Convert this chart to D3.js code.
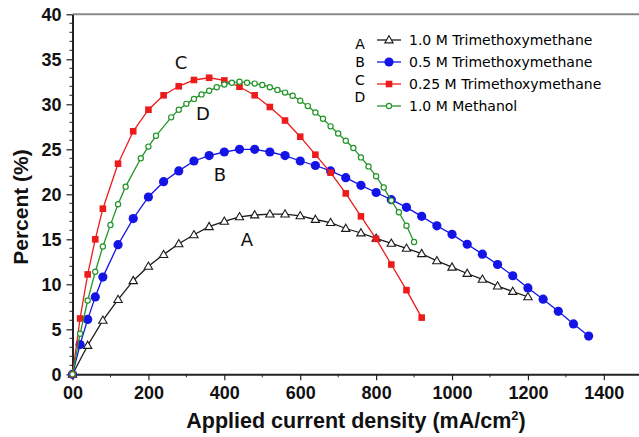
<!DOCTYPE html>
<html>
<head>
<meta charset="utf-8">
<script src="https://cdn.jsdelivr.net/npm/d3@7"></script>
<style>
  html, body { margin: 0; padding: 0; background: #fff; }
  svg { display: block; }
</style>
</head>
<body>
<script>
// Current efficiency vs. applied current density for four fuel solutions.

// A: 1.0 M Trimethoxymethane
const xA = [0,40,80,120,160,200,240,280,320,360,400,440,480,520,560,600,640,680,720,760,800,840,880,920,960,1000,1040,1080,1120,1160,1200];
const yA = [0,3.2,6.0,8.3,10.4,12.0,13.3,14.5,15.5,16.4,17.0,17.5,17.7,17.8,17.8,17.6,17.2,16.85,16.2,15.7,15.1,14.55,14.0,13.4,12.6,11.9,11.2,10.55,9.8,9.2,8.6];

// B: 0.5 M Trimethoxymethane
const xB = [0,20,40,60,80,120,160,200,240,280,320,360,400,440,480,520,560,600,640,680,720,760,800,840,880,920,960,1000,1040,1080,1120,1160,1200,1240,1280,1320,1360];
const yB = [0,3.3,6.1,8.6,10.8,14.4,17.3,19.7,21.4,22.6,23.7,24.3,24.7,25.0,25.0,24.7,24.3,23.7,23.2,22.6,21.85,21.0,20.2,19.4,18.55,17.55,16.5,15.55,14.45,13.35,12.2,10.95,9.6,8.35,7.0,5.6,4.25];

// C: 0.25 M Trimethoxymethane
const xC = [0,20,40,60,80,120,160,200,240,280,320,360,400,440,480,520,560,600,640,680,720,760,800,840,880,920];
const yC = [0,6.2,11.1,15.0,18.4,23.4,27.0,29.4,31.0,32.0,32.7,32.95,32.65,31.95,31.0,29.7,28.2,26.4,24.4,22.4,20.1,17.55,15.05,12.2,9.35,6.3];

// D: 1.0 M Methanol
const xD = [0,20,40,60,80,100,120,140,180,200,220,260,280,300,320,340,360,380,400,420,440,460,480,500,520,540,560,580,600,620,640,660,680,700,720,740,760,780,800,820,840,860,880,900];
const yD = [0,4.5,8.2,11.4,14.2,16.6,18.9,20.85,24.0,25.3,26.5,28.55,29.4,30.05,30.6,31.1,31.5,31.9,32.2,32.4,32.5,32.4,32.3,32.15,31.9,31.6,31.3,30.95,30.4,29.8,29.1,28.4,27.55,26.75,25.95,25.15,24.1,23.1,22.0,20.75,19.3,18.0,16.5,14.7];

const seriesLetters = ["A", "B", "C", "D"];
const seriesNames = ["1.0 M Trimethoxymethane", "0.5 M Trimethoxymethane", "0.25 M Trimethoxymethane", "1.0 M Methanol"];

const xTicks = [0, 200, 400, 600, 800, 1000, 1200, 1400];
const xTickLabels = ["00", "200", "400", "600", "800", "1000", "1200", "1400"];
const yTicks = [0, 5, 10, 15, 20, 25, 30, 35, 40];

const W = 639, H = 437;
const svg = d3.select("body").append("svg").attr("width", W).attr("height", H);

const x = d3.scaleLinear().domain([0, 1500]).range([72.5, 641.8]);
const y = d3.scaleLinear().domain([0, 40]).range([374.3, 14.3]);

const numFont = "'Liberation Sans', Arial, sans-serif";
const handFont = "'DejaVu Sans', sans-serif";

// top frame line
svg.append("line")
  .attr("x1", x(0)).attr("x2", W).attr("y1", y(40)).attr("y2", y(40))
  .attr("stroke", "#8a8a8a").attr("stroke-width", 2);

// minor ticks
const yMinor = d3.range(0, 41, 1).filter(v => v % 5 !== 0);
svg.append("g").selectAll("line").data(yMinor).join("line")
  .attr("x1", x(0) - 3).attr("x2", x(0)).attr("y1", d => y(d)).attr("y2", d => y(d))
  .attr("stroke", "#222").attr("stroke-width", 1);
const xMinor = d3.range(100, 1501, 200);
svg.append("g").selectAll("line").data(xMinor).join("line")
  .attr("x1", d => x(d)).attr("x2", d => x(d)).attr("y1", y(0)).attr("y2", y(0) + 3)
  .attr("stroke", "#222").attr("stroke-width", 1);

// axes
const yAxis = svg.append("g").attr("transform", `translate(${x(0)},0)`)
  .call(d3.axisLeft(y).tickValues(yTicks).tickSize(6).tickSizeOuter(0).tickPadding(5));
const xAxis = svg.append("g").attr("transform", `translate(0,${y(0)})`)
  .call(d3.axisBottom(x).tickValues(xTicks).tickFormat((d, i) => xTickLabels[i]).tickSize(6).tickSizeOuter(0).tickPadding(6));

[yAxis, xAxis].forEach(g => {
  g.select(".domain").attr("stroke", "#222").attr("stroke-width", 2);
  g.selectAll(".tick line").attr("stroke", "#222").attr("stroke-width", 1.2);
  g.selectAll(".tick text").attr("fill", "#111")
    .style("font-family", numFont).style("font-weight", "bold").style("font-size", "18px");
});

// axis titles
svg.append("text")
  .attr("x", 356).attr("y", 428).attr("text-anchor", "middle")
  .style("font-family", numFont).style("font-weight", "bold").style("font-size", "21.5px").attr("fill", "#111")
  .text("Applied current density (mA/cm")
  .append("tspan").attr("dy", -8).style("font-size", "13px").text("2")
  .select(function () { return this.parentNode; })
  .append("tspan").attr("dy", 8).text(")");

svg.append("text")
  .attr("transform", "translate(28,207) rotate(-90)").attr("text-anchor", "middle")
  .style("font-family", numFont).style("font-weight", "bold").style("font-size", "21px").attr("fill", "#111")
  .text("Percent (%)");

// series styling
const styles = [
  { xs: xA, ys: yA, color: "#1a1a1a", marker: "triangle" },
  { xs: xB, ys: yB, color: "#1414e6", marker: "bigcircle" },
  { xs: xC, ys: yC, color: "#ec1c1c", marker: "square" },
  { xs: xD, ys: yD, color: "#23952a", marker: "ring" }
];

const line = d3.line().x(d => x(d[0])).y(d => y(d[1]));

function drawMarker(g, type, color, cx, cy) {
  if (type === "triangle") {
    const s = d3.symbol().type(d3.symbolTriangle).size(30);
    g.append("path").attr("d", s()).attr("transform", `translate(${cx},${cy + 0.5})`)
      .attr("fill", "#fff").attr("stroke", color).attr("stroke-width", 1.1);
  } else if (type === "bigcircle") {
    g.append("circle").attr("cx", cx).attr("cy", cy).attr("r", 4.6).attr("fill", color);
  } else if (type === "square") {
    g.append("rect").attr("x", cx - 3.3).attr("y", cy - 3.3).attr("width", 6.6).attr("height", 6.6).attr("fill", color);
  } else {
    g.append("circle").attr("cx", cx).attr("cy", cy).attr("r", 2.6)
      .attr("fill", "#fff").attr("stroke", color).attr("stroke-width", 1.2);
  }
}

// draw order: A, B, C, D
styles.forEach(s => {
  const pts = s.xs.map((v, i) => [v, s.ys[i]]);
  const g = svg.append("g");
  g.append("path").datum(pts).attr("d", line)
    .attr("fill", "none").attr("stroke", s.color).attr("stroke-width", 1.3);
  pts.forEach(p => drawMarker(g, s.marker, s.color, x(p[0]), y(p[1])));
});

// curve labels
const curveLabels = [
  { t: "A", px: 247, py: 240 },
  { t: "B", px: 220, py: 175 },
  { t: "C", px: 181, py: 63 },
  { t: "D", px: 203, py: 114 }
];
svg.append("g").selectAll("text").data(curveLabels).join("text")
  .attr("x", d => d.px).attr("y", d => d.py).attr("dy", "0.36em").attr("text-anchor", "middle")
  .style("font-family", handFont).style("font-size", "18px").attr("fill", "#111")
  .text(d => d.t);

// legend
const legRowY = [40, 62, 84, 106];
const legLetterY = [44, 62, 80, 97];
const leg = svg.append("g");
styles.forEach((s, i) => {
  leg.append("line").attr("x1", 377).attr("x2", 401).attr("y1", legRowY[i]).attr("y2", legRowY[i])
    .attr("stroke", s.color).attr("stroke-width", 1.3);
  drawMarker(leg, s.marker, s.color, 389, legRowY[i]);
  leg.append("text").attr("x", 409).attr("y", legRowY[i]).attr("dy", "0.36em")
    .style("font-family", handFont).style("font-size", "14px").attr("fill", "#000")
    .text(seriesNames[i]);
  leg.append("text").attr("x", 360).attr("y", legLetterY[i]).attr("dy", "0.36em").attr("text-anchor", "middle")
    .style("font-family", handFont).style("font-size", "14px").attr("fill", "#000")
    .text(seriesLetters[i]);
});
</script>
</body>
</html>
